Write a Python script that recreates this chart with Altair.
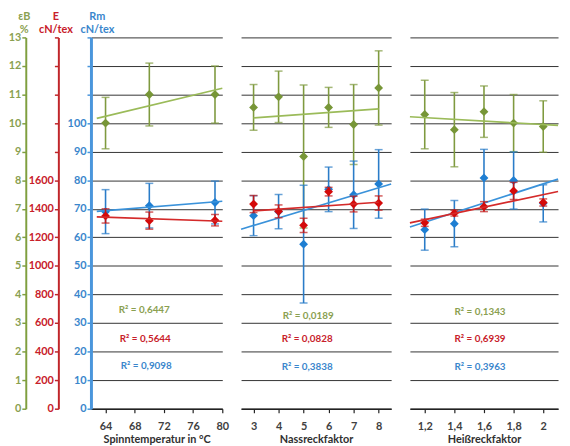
import altair as alt
import pandas as pd

# ---------------- data ----------------
# Panel 1: Spinntemperatur in °C
x1 = [64, 70, 79]
eB1 = [10.0, 11.0, 11.0]
eB1_err = [0.9, 1.1, 1.0]
E1 = [1350, 1317, 1320]
E1_err = [50, 60, 40]
Rm1 = [69.0, 71.1, 72.2]
Rm1_err = [7.7, 7.8, 7.5]

# Panel 2: Nassreckfaktor
x2 = [3, 4, 5, 6, 7, 8]
eB2 = [10.55, 10.92, 8.83, 10.55, 9.95, 11.23]
eB2_err = [0.8, 0.9, 2.5, 0.7, 1.4, 1.3]
E2 = [1433, 1382, 1284, 1520, 1433, 1440]
E2_err = [60, 45, 50, 30, 55, 50]
Rm2 = [67.6, 69.0, 57.6, 76.8, 74.9, 78.7]
Rm2_err = [7.0, 6.0, 20.6, 7.8, 11.8, 12.0]

# Panel 3: Heißreckfaktor
x3 = [1.2, 1.4, 1.6, 1.8, 2.0]
eB3 = [10.3, 9.77, 10.4, 10.0, 9.88]
eB3_err = [1.2, 1.3, 0.9, 1.0, 0.9]
E3 = [1302, 1369, 1415, 1525, 1444]
E3_err = [25, 20, 35, 60, 25]
Rm3 = [62.7, 64.8, 80.8, 79.9, 71.9]
Rm3_err = [7.2, 8.1, 10.0, 10.0, 6.5]

r2_eB = ["R² = 0,6447", "R² = 0,0189", "R² = 0,1343"]
r2_E = ["R² = 0,5644", "R² = 0,0828", "R² = 0,6939"]
r2_Rm = ["R² = 0,9098", "R² = 0,3838", "R² = 0,3963"]

x_titles = ["Spinntemperatur in °C", "Nassreckfaktor", "Heißreckfaktor"]
x_ticks1 = [64, 68, 72, 76, 80]
x_ticks2 = [3, 4, 5, 6, 7, 8]
x_ticks3 = [1.2, 1.4, 1.6, 1.8, 2.0]
eB_ticks = list(range(0, 14))
E_ticks = list(range(0, 2800, 200))
Rm_ticks = list(range(0, 140, 10))

# trend-line extents (x range of each fitted line)
ext1 = {"eB": [62.8, 80], "E": [62.8, 80], "Rm": [62.8, 80]}
ext2 = {"eB": [3, 8], "E": [3, 8], "Rm": [2.5, 8.5]}
ext3 = {"eB": [1.1, 2.1], "E": [1.1, 2.1], "Rm": [1.1, 2.1]}

# ---------------- style ----------------
FONT = "Lato"
GRID = "#333333"
STY = {
    "eB": dict(ax="#7F9F3F", lab="#8AA050", pt="#779637", err="#7F9A3F", tr="#9BBB59"),
    "E": dict(ax="#C0262A", lab="#C8202A", pt="#D40A0A", err="#C01818", tr="#D42A2A"),
    "Rm": dict(ax="#4A96DC", lab="#3A86CC", pt="#1E7ED2", err="#2A7CC8", tr="#3A92DA"),
}
DOM = {"eB": [0, 13], "E": [0, 2600], "Rm": [0, 130]}
H = 376


def series(xs, vals, errs, key, yaxis, X, extent):
    s = STY[key]
    df = pd.DataFrame({
        "x": xs,
        "v": vals,
        "lo": [v - e for v, e in zip(vals, errs)],
        "hi": [v + e for v, e in zip(vals, errs)],
    })
    ysc = alt.Scale(domain=DOM[key], nice=False, zero=False)

    def Y(f):
        return alt.Y(f, type="quantitative", scale=ysc, axis=yaxis)

    base = alt.Chart(df)
    rule = base.mark_rule(color=s["err"], strokeWidth=1.6).encode(x=X, y=Y("lo"), y2="hi")
    caps = base.transform_fold(["lo", "hi"], as_=["k", "c"]).mark_tick(
        orient="horizontal", size=8, thickness=1.5, color=s["err"]
    ).encode(x=X, y=Y("c"))
    pts = base.mark_point(shape="diamond", filled=True, size=80, color=s["pt"], opacity=1).encode(
        x=X, y=Y("v")
    )
    trend = base.transform_regression(on="x", regression="v", extent=extent).mark_line(
        color=s["tr"], strokeWidth=1.7
    ).encode(x=X, y=Y("v"))
    return alt.layer(rule, caps, pts, trend)


def text_layer(txt, key, px, py):
    return alt.Chart(pd.DataFrame({"t": [txt]})).mark_text(
        font=FONT, fontSize=10, fontWeight="bold", color=STY[key]["lab"], align="center", baseline="middle"
    ).encode(text="t:N", x=alt.value(px), y=alt.value(py))


def make_axes(first):
    if first:
        common = dict(orient="left", tickSize=4, tickWidth=1.5, labelPadding=1, format="d",
                      titleAngle=0, titleAlign="center", titleBaseline="top",
                      titleFontSize=11, titleFontWeight="bold", titleLineHeight=13,
                      titleY=-27, labelFontSize=11, labelFontWeight="bold", labelFont=FONT,
                      titleFont=FONT)
        eb = alt.Axis(offset=66, values=eB_ticks, grid=True, gridColor=GRID, gridWidth=1,
                      domainColor=STY["eB"]["ax"], domainWidth=2, tickColor=STY["eB"]["ax"],
                      labelColor=STY["eB"]["lab"], title=["εB", "%"], titleColor=STY["eB"]["lab"],
                      titleX=-2, **common)
        e = alt.Axis(offset=33, values=E_ticks, grid=False,
                     labelExpr="datum.value <= 1600 ? datum.label : ''",
                     domainColor=STY["E"]["ax"], domainWidth=2, tickColor=STY["E"]["ax"],
                     labelColor=STY["E"]["lab"], title=["E", "cN/tex"], titleColor=STY["E"]["lab"],
                     titleX=-3, **common)
        rm = alt.Axis(offset=0, values=Rm_ticks, grid=False,
                      labelExpr="datum.value <= 100 ? datum.label : ''",
                      domainColor=STY["Rm"]["ax"], domainWidth=3, tickColor=STY["Rm"]["ax"],
                      labelColor=STY["Rm"]["lab"], title=["Rm", "cN/tex"], titleColor=STY["Rm"]["lab"],
                      titleX=6, **common)
        return eb, e, rm
    eb = alt.Axis(orient="left", values=eB_ticks, grid=True, gridColor=GRID, gridWidth=1,
                  labels=False, ticks=False, domain=False, title=None)
    return eb, None, None


def panel(i, xs, data, xdom, xticks, w, ext, r2pos, label_expr=None):
    xaxis_kw = dict(values=xticks, domainColor="#222222", domainWidth=1.5, tickColor="#222222",
                    tickSize=4, tickWidth=1.2, labelColor="#404040", labelFontSize=11,
                    labelFontWeight="bold", labelPadding=8, labelFont=FONT, title=x_titles[i],
                    titleColor="#303030", titleFontSize=11, titleFontWeight="bold", titlePadding=2,
                    titleFont=FONT, grid=False, labelFlush=False)
    if label_expr:
        xaxis_kw["labelExpr"] = label_expr
    X = alt.X("x", type="quantitative", scale=alt.Scale(domain=xdom, nice=False, zero=False),
              axis=alt.Axis(**xaxis_kw))
    eb_ax, e_ax, rm_ax = make_axes(i == 0)
    g = series(xs, data["eB"][0], data["eB"][1], "eB", eb_ax, X, ext["eB"])
    b = series(xs, data["Rm"][0], data["Rm"][1], "Rm", rm_ax, X, ext["Rm"])
    r = series(xs, data["E"][0], data["E"][1], "E", e_ax, X, ext["E"])
    t1 = text_layer(r2_eB[i], "eB", r2pos[0][0], r2pos[0][1])
    t2 = text_layer(r2_E[i], "E", r2pos[1][0], r2pos[1][1])
    t3 = text_layer(r2_Rm[i], "Rm", r2pos[2][0], r2pos[2][1])
    return alt.layer(g, b, r, t1, t2, t3).resolve_scale(y="independent").properties(width=w, height=H)


p1 = panel(0, x1, {"eB": (eB1, eB1_err), "E": (E1, E1_err), "Rm": (Rm1, Rm1_err)},
           [62, 80], x_ticks1, 133, ext1, [(54, 276), (55, 305), (56, 333)])
p2 = panel(1, x2, {"eB": (eB2, eB2_err), "E": (E2, E2_err), "Rm": (Rm2, Rm2_err)},
           [2.5, 8.5], x_ticks2, 152, ext2, [(68, 282), (67, 305), (67, 334)])
p3 = panel(2, x3, {"eB": (eB3, eB3_err), "E": (E3, E3_err), "Rm": (Rm3, Rm3_err)},
           [1.1, 2.1], x_ticks3, 150, ext3, [(71, 278), (71, 305), (71, 334)],
           label_expr="replace(toString(datum.value), '.', ',')")

chart = alt.hconcat(p1, p2, p3, spacing=19, bounds="flush").properties(
    padding={"left": 0, "right": 0, "top": 0, "bottom": 0}
).configure(font=FONT, view=alt.ViewConfig(stroke=None))

chart.save("out.html", embed_options={"renderer": "svg", "actions": False})
